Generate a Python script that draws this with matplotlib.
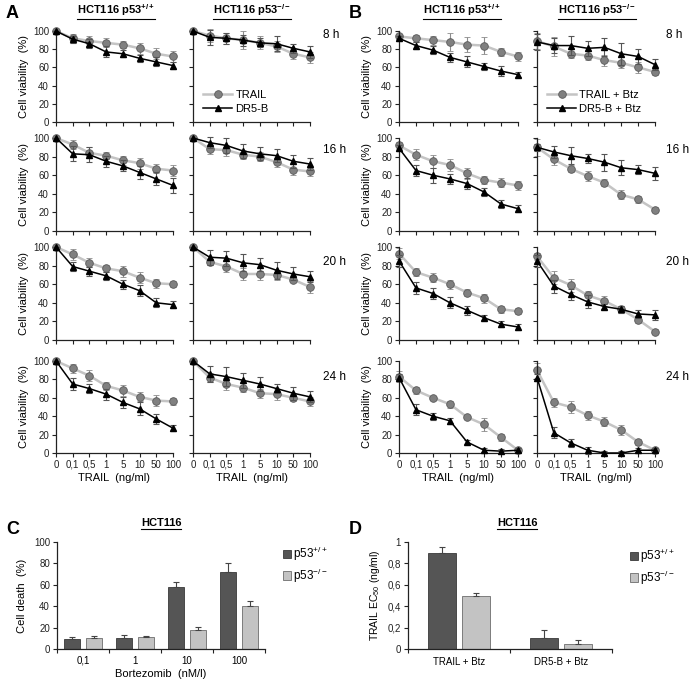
import numpy as np
import matplotlib
matplotlib.use("Agg")
import matplotlib.pyplot as plt
from matplotlib.lines import Line2D
from matplotlib.patches import Patch

plt.rcParams['font.family'] = ['Liberation Sans', 'DejaVu Sans']
plt.rcParams['mathtext.fontset'] = 'custom'
plt.rcParams['mathtext.rm'] = 'Liberation Sans'
plt.rcParams['mathtext.bf'] = 'Liberation Sans:bold'
plt.rcParams['mathtext.it'] = 'Liberation Sans:italic'
plt.rcParams['mathtext.default'] = 'regular'

hours = ['8 h', '16 h', '20 h', '24 h']
trail_conc = ['0', '0,1', '0,5', '1', '5', '10', '50', '100']

# panel A, p53+/+  (rows = 8, 16, 20, 24 h)
a_wt_trail = [[100, 92, 89, 87, 85, 81, 75, 72],
              [100, 93, 84, 81, 76, 73, 67, 65],
              [100, 92, 83, 77, 74, 67, 61, 60],
              [100, 92, 84, 73, 68, 61, 57, 56]]
a_wt_trail_err = [[0, 5, 6, 5, 4, 6, 6, 6],
                  [0, 5, 6, 4, 5, 6, 5, 6],
                  [0, 6, 5, 4, 6, 6, 5, 3],
                  [0, 5, 6, 4, 6, 5, 6, 4]]
a_wt_dr5 = [[100, 91, 86, 77, 75, 70, 66, 62],
            [100, 83, 82, 75, 70, 63, 56, 49],
            [100, 79, 74, 69, 60, 53, 40, 38],
            [100, 75, 70, 64, 55, 48, 37, 27]]
a_wt_dr5_err = [[0, 4, 5, 6, 4, 4, 5, 4],
                [0, 8, 8, 6, 6, 7, 7, 8],
                [0, 5, 5, 4, 5, 6, 5, 4],
                [0, 6, 5, 6, 6, 7, 5, 3]]
# panel A, p53-/-
a_ko_trail = [[100, 95, 92, 90, 87, 83, 75, 71],
              [100, 88, 87, 82, 80, 74, 66, 64],
              [100, 84, 79, 71, 71, 70, 65, 57],
              [100, 82, 75, 71, 65, 64, 60, 56]]
a_ko_trail_err = [[0, 7, 6, 10, 7, 6, 6, 6],
                  [0, 5, 6, 5, 5, 5, 6, 5],
                  [0, 3, 6, 6, 6, 5, 3, 6],
                  [0, 5, 6, 5, 5, 6, 4, 5]]
a_ko_dr5 = [[100, 93, 92, 90, 87, 86, 81, 77],
            [100, 95, 92, 86, 83, 81, 75, 72],
            [100, 89, 88, 83, 81, 75, 71, 68],
            [100, 86, 83, 79, 75, 70, 65, 61]]
a_ko_dr5_err = [[0, 8, 6, 6, 5, 8, 5, 7],
                [0, 6, 8, 8, 7, 7, 7, 6],
                [0, 8, 8, 9, 7, 9, 7, 6],
                [0, 9, 10, 8, 8, 5, 7, 6]]

# panel B, p53+/+
b_wt_trail = [[94, 92, 90, 88, 85, 84, 77, 72],
              [92, 82, 75, 71, 62, 55, 52, 49],
              [93, 73, 67, 60, 51, 45, 33, 31],
              [83, 68, 60, 53, 39, 31, 17, 3]]
b_wt_trail_err = [[3, 4, 5, 10, 8, 9, 4, 5],
                  [4, 6, 7, 6, 6, 4, 5, 5],
                  [6, 4, 5, 5, 4, 5, 4, 3],
                  [6, 4, 2, 4, 2, 7, 4, 2]]
b_wt_dr5 = [[92, 84, 79, 71, 66, 61, 56, 52],
            [89, 65, 60, 56, 51, 42, 29, 24],
            [85, 56, 50, 40, 32, 24, 17, 14],
            [82, 47, 40, 35, 12, 3, 2, 3]]
b_wt_dr5_err = [[3, 4, 4, 5, 6, 4, 5, 3],
                [3, 6, 8, 5, 6, 4, 4, 4],
                [6, 6, 6, 6, 5, 3, 3, 3],
                [4, 6, 4, 3, 2, 2, 2, 2]]
# panel B, p53-/-
b_ko_trail = [[89, 83, 75, 73, 68, 65, 60, 55],
              [90, 77, 67, 59, 52, 39, 34, 23],
              [90, 67, 59, 48, 42, 33, 22, 9],
              [90, 55, 50, 41, 34, 25, 12, 3]]
b_ko_trail_err = [[9, 10, 5, 5, 6, 6, 6, 3],
                  [9, 6, 4, 5, 4, 5, 4, 3],
                  [4, 7, 7, 5, 5, 4, 4, 3],
                  [8, 5, 6, 5, 5, 5, 3, 2]]
b_ko_dr5 = [[88, 84, 84, 81, 82, 75, 72, 63],
            [90, 85, 81, 78, 74, 68, 66, 62],
            [85, 58, 49, 41, 36, 33, 28, 27],
            [82, 22, 11, 3, 0, 0, 3, 3]]
b_ko_dr5_err = [[9, 8, 10, 8, 10, 12, 8, 6],
                [4, 6, 9, 5, 9, 8, 5, 7],
                [6, 7, 6, 7, 3, 4, 4, 5],
                [4, 6, 4, 4, 2, 2, 2, 2]]

# panel C
bz_doses = ['0,1', '1', '10', '100']
c_wt = [9, 10, 58, 72]
c_wt_err = [2, 3, 5, 8]
c_ko = [10, 11, 18, 40]
c_ko_err = [2, 1, 3, 5]

# panel D
d_groups = ['TRAIL + Btz', 'DR5-B + Btz']
d_wt = [0.9, 0.1]
d_wt_err = [0.05, 0.08]
d_ko = [0.5, 0.05]
d_ko_err = [0.02, 0.03]

W, H = 689, 681
fig = plt.figure(figsize=(W / 100, H / 100), dpi=100)


def px_axes(x0, x1, y0, y1):
    return fig.add_axes([x0 / W, 1 - y1 / H, (x1 - x0) / W, (y1 - y0) / H])


def style(ax):
    for s in ['top', 'right']:
        ax.spines[s].set_visible(False)
    for s in ['left', 'bottom']:
        ax.spines[s].set_color('#222222')
        ax.spines[s].set_linewidth(0.9)
    ax.tick_params(direction='out', length=3, width=0.8, colors='#222222',
                   labelsize=7, pad=2)


def ftext(x, y, s, **kw):
    return fig.text(x / W, 1 - y / H, s, **kw)


underlined = []

TR_LINE = '#c4c4c4'
TR_FACE = '#808080'
ERR = '#8c8c8c'

rows = [(31, 122), (138, 231), (247, 340), (361, 453)]
hour_y = [35, 150, 262, 377]
cols = [(56, 173), (193, 310), (399, 518), (537, 655)]
hour_x = {1: 323, 3: 666}
sets = [(a_wt_trail, a_wt_trail_err, a_wt_dr5, a_wt_dr5_err),
        (a_ko_trail, a_ko_trail_err, a_ko_dr5, a_ko_dr5_err),
        (b_wt_trail, b_wt_trail_err, b_wt_dr5, b_wt_dr5_err),
        (b_ko_trail, b_ko_trail_err, b_ko_dr5, b_ko_dr5_err)]

x = np.arange(len(trail_conc))
for c, (cx0, cx1) in enumerate(cols):
    tr, tre, dr, dre = sets[c]
    for r, (ry0, ry1) in enumerate(rows):
        ax = px_axes(cx0, cx1, ry0, ry1)
        style(ax)
        ax.errorbar(x, tr[r], yerr=tre[r], color=TR_LINE, lw=1.8,
                    marker='o', ms=5.5, mfc=TR_FACE, mec='#5a5a5a', mew=0.6,
                    ecolor=ERR, elinewidth=0.8, capsize=2.5, capthick=0.8,
                    clip_on=False, zorder=2)
        ax.errorbar(x, dr[r], yerr=dre[r], color='black', lw=1.1,
                    marker='^', ms=3.8, mfc='black', mec='black',
                    ecolor='#555555', elinewidth=0.8, capsize=2.5, capthick=0.8,
                    clip_on=False, zorder=3)
        ax.set_xlim(0, 7)
        ax.set_ylim(0, 100)
        ax.set_xticks(x)
        ax.set_yticks([0, 20, 40, 60, 80, 100])
        if c in (0, 2):
            ax.set_ylabel('Cell viability  (%)', fontsize=8, labelpad=3)
        else:
            ax.set_yticklabels([])
        if r == 3:
            ax.set_xticklabels(trail_conc)
            ax.set_xlabel('TRAIL  (ng/ml)', fontsize=8, labelpad=2)
        else:
            ax.set_xticklabels([])
        if c in (1, 3):
            ftext(hour_x[c], hour_y[r], hours[r], fontsize=8.5,
                  ha='left', va='center')
        if c in (1, 3) and r == 0:
            if c == 1:
                labs = ['TRAIL', 'DR5-B']
            else:
                labs = ['TRAIL + Btz', 'DR5-B + Btz']
            hs = [Line2D([], [], color=TR_LINE, lw=1.8, marker='o', ms=5.5,
                         mfc=TR_FACE, mec='#5a5a5a', mew=0.6),
                  Line2D([], [], color='black', lw=1.1, marker='^', ms=3.8)]
            ax.legend(hs, labs, loc='lower left', bbox_to_anchor=(0.02, 0.0),
                      frameon=False, fontsize=8, handlelength=2.6,
                      handletextpad=0.3, labelspacing=0.4, borderpad=0.2)

# column titles
for cx, lab in [(116, 'HCT116 p53$^{\\mathbf{+/+}}$'), (252, 'HCT116 p53$^{\\mathbf{-/-}}$'),
                (462, 'HCT116 p53$^{\\mathbf{+/+}}$'), (597, 'HCT116 p53$^{\\mathbf{-/-}}$')]:
    underlined.append(ftext(cx, 10, lab, fontsize=8, fontweight='bold',
                            ha='center', va='center'))

for xx, yy, s in [(6, 14, 'A'), (349, 14, 'B'), (6, 530, 'C'), (349, 530, 'D')]:
    ftext(xx, yy, s, fontsize=13, fontweight='bold', ha='left', va='center')

# panel C
axc = px_axes(57, 265, 542, 649)
style(axc)
gx = np.arange(len(bz_doses)) + 0.5
axc.bar(gx - 0.21, c_wt, 0.32, color='#555555', edgecolor='#222222', lw=0.5)
axc.bar(gx + 0.21, c_ko, 0.32, color='#c3c3c3', edgecolor='#555555', lw=0.5)
axc.errorbar(gx - 0.21, c_wt, yerr=[np.zeros(4), c_wt_err], fmt='none',
             ecolor='#444444', elinewidth=0.8, capsize=2.5, capthick=0.8)
axc.errorbar(gx + 0.21, c_ko, yerr=[np.zeros(4), c_ko_err], fmt='none',
             ecolor='#444444', elinewidth=0.8, capsize=2.5, capthick=0.8)
axc.set_xlim(0, 4)
axc.set_ylim(0, 100)
axc.set_yticks([0, 20, 40, 60, 80, 100])
axc.set_xticks(np.arange(5))
axc.set_xticklabels([])
axc.set_xticks(gx, minor=True)
axc.set_xticklabels(bz_doses, minor=True)
axc.tick_params(axis='x', which='minor', length=0, labelsize=7, pad=5)
axc.set_ylabel('Cell death  (%)', fontsize=8, labelpad=5)
axc.set_xlabel('Bortezomib  (nM/l)', fontsize=8, labelpad=2)
underlined.append(ftext(161, 523, 'HCT116', fontsize=8, fontweight='bold',
                        ha='center', va='center'))
lh = [Patch(facecolor='#555555', edgecolor='#222222', lw=0.5),
      Patch(facecolor='#c3c3c3', edgecolor='#555555', lw=0.5)]
ll = ['p53$^{+/+}$', 'p53$^{-/-}$']
fig.legend(lh, ll, loc='upper left', bbox_to_anchor=(272 / W, 1 - 534 / H),
           frameon=False, fontsize=8.5, handlelength=0.7, handleheight=0.7,
           handletextpad=0.2, labelspacing=0.3)

# panel D
axd = px_axes(408, 612, 542, 649)
style(axd)
dx = np.arange(len(d_groups)) + 0.5
axd.bar(dx - 0.165, d_wt, 0.27, color='#555555', edgecolor='#222222', lw=0.5)
axd.bar(dx + 0.165, d_ko, 0.27, color='#c3c3c3', edgecolor='#555555', lw=0.5)
axd.errorbar(dx - 0.165, d_wt, yerr=[np.zeros(2), d_wt_err], fmt='none',
             ecolor='#444444', elinewidth=0.8, capsize=2.5, capthick=0.8)
axd.errorbar(dx + 0.165, d_ko, yerr=[np.zeros(2), d_ko_err], fmt='none',
             ecolor='#444444', elinewidth=0.8, capsize=2.5, capthick=0.8)
axd.set_xlim(0, 2)
axd.set_ylim(0, 1)
axd.set_yticks([0, 0.2, 0.4, 0.6, 0.8, 1.0])
axd.set_yticklabels(['0', '0,2', '0,4', '0,6', '0,8', '1'])
axd.set_xticks([0, 1, 2])
axd.set_xticklabels([])
axd.set_xticks(dx, minor=True)
axd.set_xticklabels(d_groups, minor=True)
axd.tick_params(axis='x', which='minor', length=0, labelsize=7, pad=6)
axd.set_ylabel('TRAIL EC$_{50}$ (ng/ml)', fontsize=7.5, labelpad=4)
underlined.append(ftext(517, 523, 'HCT116', fontsize=8, fontweight='bold',
                        ha='center', va='center'))
fig.legend(lh, ll, loc='upper left', bbox_to_anchor=(619 / W, 1 - 536 / H),
           frameon=False, fontsize=8.5, handlelength=0.7, handleheight=0.7,
           handletextpad=0.2, labelspacing=0.3)

# underline the titles
fig.canvas.draw()
rend = fig.canvas.get_renderer()
for t in underlined:
    bb = t.get_window_extent(rend).transformed(fig.transFigure.inverted())
    fig.add_artist(Line2D([bb.x0, bb.x1], [bb.y0 - 0.002, bb.y0 - 0.002],
                          transform=fig.transFigure, color='black', lw=0.8))

fig.savefig('out.png', dpi=100)
